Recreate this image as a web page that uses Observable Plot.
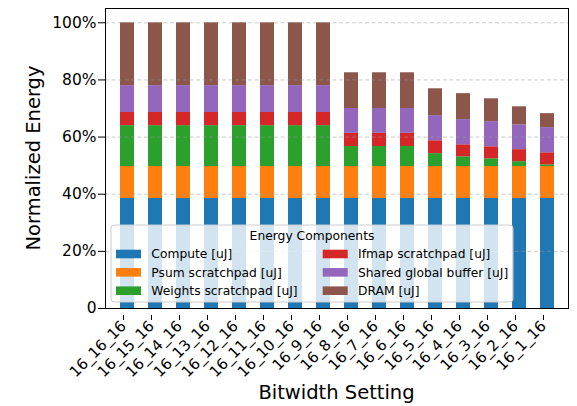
<!DOCTYPE html>
<html>
<head>
<meta charset="utf-8">
<script src="https://cdn.jsdelivr.net/npm/d3@7"></script>
<script src="https://cdn.jsdelivr.net/npm/@observablehq/plot@0.6"></script>
<style>
  html, body { margin: 0; padding: 0; background: #fff; }
  #chart { width: 577px; height: 406px; }
</style>
</head>
<body>
<div id="chart"></div>
<script>
const categories = ["16_16_16","16_15_16","16_14_16","16_13_16","16_12_16","16_11_16","16_10_16","16_9_16",
                    "16_8_16","16_7_16","16_6_16","16_5_16","16_4_16","16_3_16","16_2_16","16_1_16"];
const components = ["Compute [uJ]","Psum scratchpad [uJ]","Weights scratchpad [uJ]",
                    "Ifmap scratchpad [uJ]","Shared global buffer [uJ]","DRAM [uJ]"];
const colors = ["#1f77b4","#ff7f0e","#2ca02c","#d62728","#9467bd","#8c564b"];

const compute = [0.385,0.385,0.385,0.385,0.385,0.385,0.385,0.385,0.385,0.385,0.385,0.385,0.385,0.385,0.385,0.385];
const psum    = [0.112,0.112,0.112,0.112,0.112,0.112,0.112,0.112,0.112,0.112,0.112,0.112,0.112,0.112,0.112,0.112];
const weights = [0.143,0.143,0.143,0.143,0.143,0.143,0.143,0.143,0.070,0.070,0.070,0.045,0.034,0.027,0.017,0.006];
const ifmap   = [0.046,0.046,0.046,0.046,0.046,0.046,0.046,0.046,0.046,0.046,0.046,0.045,0.042,0.042,0.042,0.042];
const sgb     = [0.094,0.094,0.094,0.094,0.094,0.094,0.094,0.094,0.087,0.087,0.087,0.088,0.088,0.088,0.087,0.088];
const dram    = [0.220,0.220,0.220,0.220,0.220,0.220,0.220,0.220,0.125,0.125,0.125,0.094,0.091,0.080,0.063,0.049];

const yTicks = [0, 0.2, 0.4, 0.6, 0.8, 1.0];
const yTickLabels = ["0","20%","40%","60%","80%","100%"];
const gridTicks = [0.2, 0.4, 0.6, 0.8, 1.0];

const series = [compute, psum, weights, ifmap, sgb, dram];
const data = [];
series.forEach((vals, j) => vals.forEach((v, i) => data.push({cat: categories[i], comp: components[j], value: v})));

const W = 577, H = 406;
const mL = 105, mR = 9, mT = 8, mB = 98;

const plot = Plot.plot({
  width: W, height: H,
  marginLeft: mL, marginRight: mR, marginTop: mT, marginBottom: mB,
  style: {fontFamily: "DejaVu Sans", background: "#fff", color: "#000"},
  x: {type: "band", domain: categories, paddingInner: 0.5, paddingOuter: 0.25, label: null},
  y: {domain: [0, 1.05], label: null},
  color: {domain: components, range: colors},
  marks: [
    Plot.barY(data, Plot.stackY({x: "cat", y: "value", fill: "comp", z: "comp"})),
    Plot.ruleY(gridTicks, {stroke: "#999", strokeOpacity: 0.5, strokeDasharray: "4,2.5", strokeWidth: 1}),
    Plot.frame({stroke: "#000", strokeWidth: 1}),
    Plot.axisY({ticks: yTicks, tickFormat: (d) => yTickLabels[yTicks.indexOf(d)], tickSize: 7, tickPadding: 2, fontSize: 15.5, label: null}),
    Plot.axisX({tickRotate: -45, tickSize: 5, tickPadding: 3, fontSize: 15, dx: -4, dy: 7, label: null})
  ]
});
document.getElementById("chart").appendChild(plot);

const svg = d3.select(plot);

svg.append("text")
  .attr("x", (mL + W - mR) / 2).attr("y", 399)
  .attr("text-anchor", "middle")
  .attr("font-family", "DejaVu Sans").attr("font-size", 19.5).attr("fill", "#000")
  .text("Bitwidth Setting");
svg.append("text")
  .attr("transform", `translate(40,${(mT + H - mB) / 2}) rotate(-90)`)
  .attr("text-anchor", "middle")
  .attr("font-family", "DejaVu Sans").attr("font-size", 19.5).attr("fill", "#000")
  .text("Normalized Energy");

const lg = svg.append("g").attr("font-family", "DejaVu Sans").attr("font-size", 12.3);
lg.append("rect").attr("x", 111).attr("y", 225).attr("width", 402).attr("height", 77)
  .attr("rx", 3).attr("fill", "#fff").attr("fill-opacity", 0.8).attr("stroke", "#ccc").attr("stroke-width", 1);
lg.append("text").attr("x", 312).attr("y", 235.7).attr("dy", "0.35em").attr("text-anchor", "middle").attr("fill", "#000")
  .text("Energy Components");
components.forEach((c, i) => {
  const col = Math.floor(i / 3), row = i % 3;
  const sx = col === 0 ? 116 : 322.7;
  const cy = 254 + row * 18.35;
  lg.append("rect").attr("x", sx).attr("y", cy - 4.3).attr("width", 25).attr("height", 8.6).attr("fill", colors[i]);
  lg.append("text").attr("x", sx + 35.3).attr("y", cy).attr("dy", "0.35em").attr("text-anchor", "start").attr("fill", "#000").text(c);
});
</script>
</body>
</html>
